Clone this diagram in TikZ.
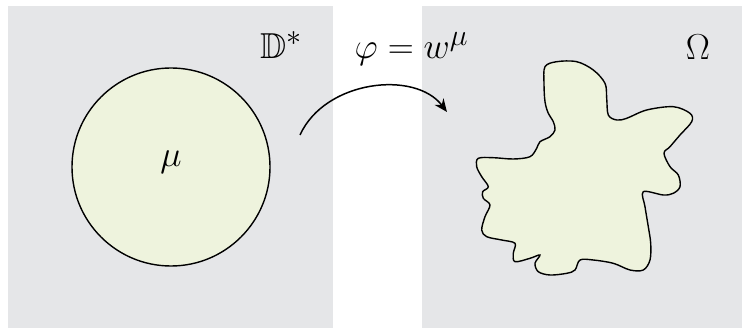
\documentclass[tikz,border=0pt]{standalone}
\usepackage{amsmath}
\usepackage{amssymb}
\usepackage{tikz}
\usetikzlibrary{arrows.meta, positioning}
\definecolor{panelgray}{RGB}{229,230,232}
\definecolor{regionfill}{RGB}{238,243,221}

\begin{document}
\begin{tikzpicture}[x=1pt, y=-1pt,
  panel/.style={
    rectangle, fill=panelgray, inner sep=0pt,
    minimum height=322pt, anchor=north west
  },
  region/.style={fill=regionfill, draw=black, line width=1.4pt},
  lbl/.style={font=\Huge, scale=1.45, transform shape, inner sep=0pt, anchor=base},
  arr/.style={-{Stealth[length=13pt, width=11pt]}, line width=1.5pt}
]
  \useasboundingbox (0,0) rectangle (742,328);

  % Source and target planes
  \node[panel, minimum width=325pt] (disk)  at (8,6)   {};
  \node[panel, minimum width=320pt] (image) at (422,6) {};

  % Exterior disk carrying the coefficient
  \node[region, circle, minimum size=198pt, inner sep=0pt] (circ) at (171,167) {};
  \node[lbl] (mu) at (171,167) {$\mu$};

  % Image domain
  \draw[region] plot[smooth cycle, tension=0.55] coordinates {
    (545,66.7) (556.7,61.7) (576.7,61.7) (593.3,70) (605,83.3) (606.7,98.3)
    (608.3,115) (616.7,120) (626.7,118.3) (646.7,110) (673.3,106.7) (690,113.3)
    (691.7,121.7) (680,135) (670,146.7) (664,153.3) (670,166.7) (678.3,175)
    (680,186.7) (673.3,193.3) (663.3,195) (643.3,191.7) (645,206.7) (648.3,226.7)
    (650.7,243.3) (650,260) (643.3,270) (630,270) (613.3,263.3) (593.3,260)
    (580,260) (575,270) (566.7,273.3) (550,275) (538.3,271.7) (535,263.3)
    (540,255) (530,258.3) (515,261.7) (513.3,253.3) (515,243.3) (501.7,240)
    (486.7,236.7) (481.7,230) (485,216.7) (490,205) (483.3,198.3) (482.7,191.7)
    (488.3,186.7) (481.7,176.7) (476.7,166.7) (478.3,158.3) (493.3,157.7)
    (513.3,159) (530,156.7) (536.7,148.3) (540,141.7) (550,136.7) (555,130)
    (553.3,121.7) (548.3,113.3) (545,101.7) (544,83.3)};

  % Labels
  \node[lbl] (dstar) at (281,59)   {$\mathbb{D}^*$};
  \node[lbl] (map)   at (411.5,59) {$\varphi = w^\mu$};
  \node[lbl] (omega) at (698,60)   {$\Omega$};

  % The map
  \coordinate (from) at (300,135);
  \coordinate (to)   at (447,112);
  \draw[arr] (from) .. controls (325,80) and (415,70) .. (to);
\end{tikzpicture}
\end{document}
